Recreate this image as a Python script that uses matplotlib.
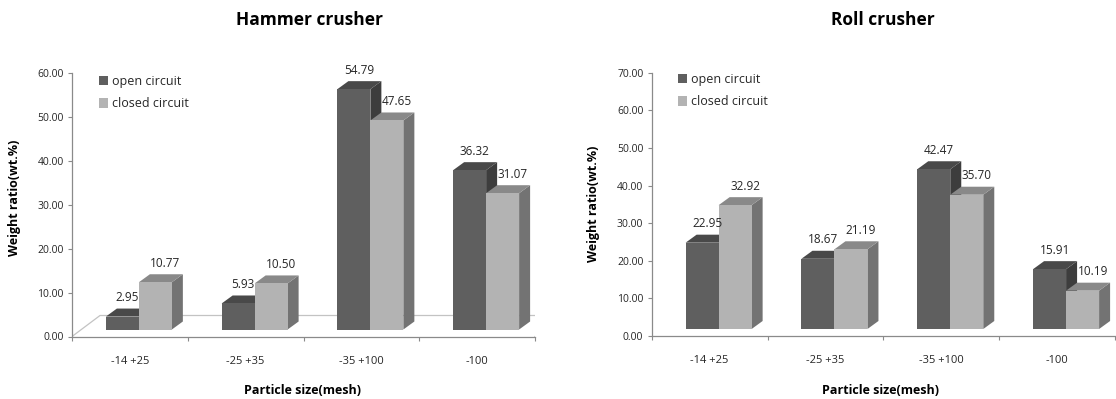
import matplotlib
matplotlib.use("Agg")
import matplotlib.pyplot as plt
from matplotlib.patches import Polygon, Patch
from matplotlib.lines import Line2D
from matplotlib.transforms import IdentityTransform, offset_copy

# --- data ---------------------------------------------------------------------
categories = ["-14 +25", "-25 +35", "-35 +100", "-100"]
series_names = ["open circuit", "closed circuit"]

hammer_open = [2.95, 5.93, 54.79, 36.32]
hammer_closed = [10.77, 10.50, 47.65, 31.07]
roll_open = [22.95, 18.67, 42.47, 15.91]
roll_closed = [32.92, 21.19, 35.70, 10.19]

# --- look ---------------------------------------------------------------------
W, H, DPI = 1116, 399, 100
FONT = ["Open Sans", "DejaVu Sans"]

# (front, top, side) shades per series
OPEN_SHADES = ("#5f5f5f", "#494949", "#3d3d3d")
CLOSED_SHADES = ("#b3b3b3", "#898989", "#737373")
AXIS_GREY = "#8a8a8a"
TEXT = "#262626"

BAR_W = 0.285        # data units (one category = 1.0)
FRONT = (9, 7)       # px shift of the front faces
DEPTH = (11, 8)      # px depth of each bar
FLOOR = (28, 21)     # px depth of the floor plane
LABEL_DX = (5, 10)   # px nudge of the value labels, open / closed

plt.rcParams["font.family"] = FONT

fig = plt.figure(figsize=(W / DPI, H / DPI), dpi=DPI)
fig.patch.set_facecolor("white")


def px_axes(left, right, bottom, top):
    """Axes placed by pixel edges (y measured from the top of the image)."""
    return fig.add_axes([left / W, 1 - bottom / H, (right - left) / W, (bottom - top) / H])


def add_faces(ax, x0, value, shades):
    """Top and side faces of one box; the front face comes from ax.bar."""
    _, top_c, side_c = shades
    (xa, ya), (xb, yb) = ax.transData.transform([(x0, 0), (x0 + BAR_W, value)])
    fx, fy = FRONT
    dx, dy = DEPTH
    x1, x2, y1, y2 = xa + fx, xb + fx, ya + fy, yb + fy
    side = [(x2, y1), (x2 + dx, y1 + dy), (x2 + dx, y2 + dy), (x2, y2)]
    top = [(x1, y2), (x2, y2), (x2 + dx, y2 + dy), (x1 + dx, y2 + dy)]
    for pts, c in ((side, side_c), (top, top_c)):
        ax.add_patch(Polygon(pts, closed=True, transform=IdentityTransform(),
                             facecolor=c, edgecolor="none", zorder=2))


def draw_chart(ax, opened, closed, ymax, show_floor):
    n = len(categories)
    ax.set_xlim(0, n)
    ax.set_ylim(0, ymax)

    for side in ("top", "right"):
        ax.spines[side].set_visible(False)
    for side in ("left", "bottom"):
        ax.spines[side].set_color(AXIS_GREY)
        ax.spines[side].set_linewidth(0.9)

    ax.set_yticks(range(0, ymax + 1, 10))
    ax.set_yticklabels([f"{v:.2f}" for v in range(0, ymax + 1, 10)])
    ax.tick_params(axis="y", direction="out", length=3, width=0.8,
                   color=AXIS_GREY, labelsize=7.5, labelcolor=TEXT, pad=3)

    centers = [i + 0.5 for i in range(n)]
    ax.set_xticks(centers)
    ax.set_xticklabels(categories)
    ax.set_xticks(range(n + 1), minor=True)
    ax.tick_params(axis="x", which="major", length=0, labelsize=8,
                   labelcolor=TEXT, pad=14)
    ax.tick_params(axis="x", which="minor", direction="out", length=3,
                   width=0.8, color=AXIS_GREY)

    if show_floor:
        (lx, ly), (rx, ry) = ax.transData.transform([(0, 0), (n, 0)])
        fx, fy = FLOOR
        ax.add_line(Line2D([lx, lx + fx, rx + fx, rx], [ly, ly + fy, ry + fy, ry],
                           color="#c3c3c3", lw=0.9, transform=IdentityTransform(),
                           zorder=1))

    front_tr = offset_copy(ax.transData, fig=fig, x=FRONT[0], y=FRONT[1], units="dots")
    runs = ((opened, OPEN_SHADES, -BAR_W, LABEL_DX[0]),
            (closed, CLOSED_SHADES, 0.0, LABEL_DX[1]))
    for values, shades, shift, nudge in runs:
        lefts = [c + shift for c in centers]
        for x0, v in zip(lefts, values):
            add_faces(ax, x0, v, shades)
        ax.bar(lefts, values, width=BAR_W, align="edge", color=shades[0],
               edgecolor="none", transform=front_tr, zorder=2)
        for x0, v in zip(lefts, values):
            ax.annotate(f"{v:.2f}", xy=(x0 + BAR_W / 2, v),
                        xytext=(FRONT[0] + nudge, FRONT[1] + 19),
                        textcoords="offset pixels", ha="center", va="center",
                        fontsize=8.5, color=TEXT, zorder=5)


def draw_legend(ax, x_px, y_px):
    handles = [Patch(facecolor=OPEN_SHADES[0]), Patch(facecolor=CLOSED_SHADES[0])]
    ax.legend(handles, series_names, loc="upper left",
              bbox_to_anchor=(x_px / W, 1 - y_px / H), bbox_transform=fig.transFigure,
              frameon=False, borderpad=0, borderaxespad=0, handlelength=0.75,
              handleheight=0.75, handletextpad=0.3, labelspacing=0.75,
              fontsize=9, labelcolor=TEXT)


# --- Hammer crusher -------------------------------------------------------------
ax1 = px_axes(72, 535, 336.5, 73.3)
draw_chart(ax1, hammer_open, hammer_closed, 60, show_floor=True)
draw_legend(ax1, 99, 75)
fig.text(310 / W, 1 - 20 / H, "Hammer crusher", ha="center", va="center",
         fontsize=12.5, fontweight="bold", color="black")
fig.text(15 / W, 1 - 198 / H, "Weight ratio(wt.%)", rotation=90, ha="center",
         va="center", fontsize=9, fontweight="bold", color="black")
fig.text(303 / W, 1 - 390 / H, "Particle size(mesh)", ha="center", va="center",
         fontsize=9, fontweight="bold", color="black")

# --- Roll crusher ---------------------------------------------------------------
ax2 = px_axes(651.7, 1115, 336, 72.7)
draw_chart(ax2, roll_open, roll_closed, 70, show_floor=False)
draw_legend(ax2, 678, 73)
fig.text(883 / W, 1 - 20 / H, "Roll crusher", ha="center", va="center",
         fontsize=12.5, fontweight="bold", color="black")
fig.text(594 / W, 1 - 204 / H, "Weight ratio(wt.%)", rotation=90, ha="center",
         va="center", fontsize=9, fontweight="bold", color="black")
fig.text(881 / W, 1 - 390 / H, "Particle size(mesh)", ha="center", va="center",
         fontsize=9, fontweight="bold", color="black")

fig.savefig("out.png", dpi=DPI, facecolor="white")
